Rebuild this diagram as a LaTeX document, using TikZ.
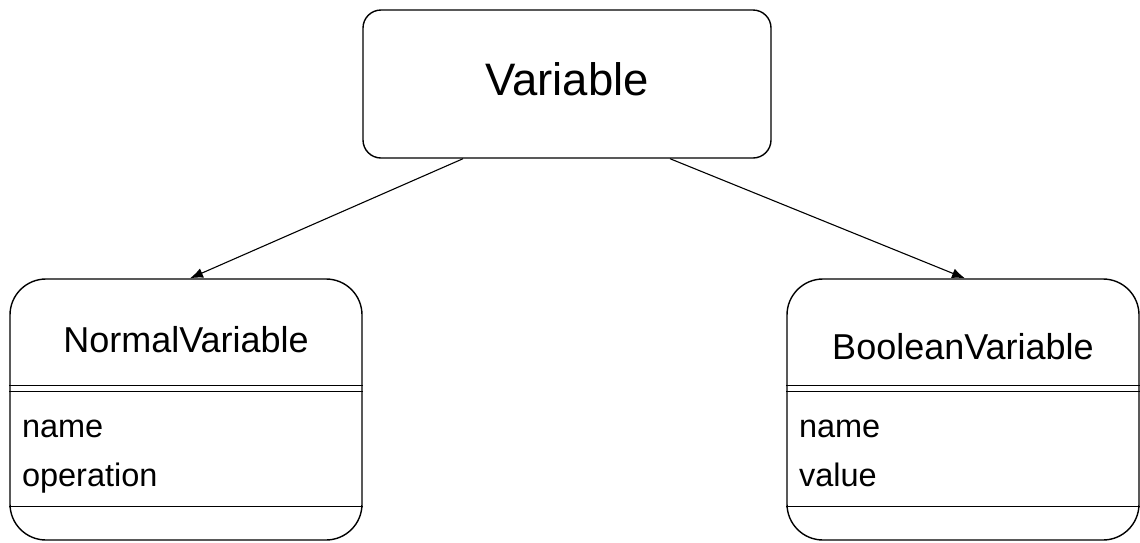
\documentclass[tikz,border=0pt]{standalone}
\usepackage{fontspec}
\setmainfont{Liberation Sans}
\usetikzlibrary{arrows.meta}

\tikzset{
    classbox/.style={draw, rounded corners=36pt, minimum width=352pt, minimum height=261pt},
    title/.style={font=\fontsize{36}{42}\selectfont},
    attr/.style={font=\fontsize{32.5}{38}\selectfont},
    inherit/.style={line width=1.1pt, -{Latex[length=13pt,width=10pt]}}
}

\begin{document}
\begin{tikzpicture}[x=1pt, y=-1pt, line width=1.4pt, every node/.style={inner sep=0pt}]

    \useasboundingbox (0,0) rectangle (1140,542);

    % Variable
    \node[draw, rounded corners=18pt, minimum width=408pt, minimum height=148pt] (variable) at (567,84) {};
    \node[font=\fontsize{45.5}{54}\selectfont] (variabletitle) at (567,79) {Variable};

    % NormalVariable
    \node[classbox] (normal) at (186,409.5) {};
    \node[title, anchor=base] (normaltitle) at ([yshift=-74pt]normal.north) {NormalVariable};
    \draw ([yshift=-107pt]normal.north west) -- ([yshift=-107pt]normal.north east);
    \draw ([yshift=-113pt]normal.north west) -- ([yshift=-113pt]normal.north east);
    \node[attr, anchor=base west] (normalname) at ([xshift=12pt, yshift=-159pt]normal.north west) {name};
    \node[attr, anchor=base west] (normalop) at ([xshift=12pt, yshift=-208pt]normal.north west) {operation};
    \draw ([yshift=-228pt]normal.north west) -- ([yshift=-228pt]normal.north east);

    % BooleanVariable
    \node[classbox] (boolean) at (963,409.5) {};
    \node[title, anchor=base] (booleantitle) at ([yshift=-81pt]boolean.north) {BooleanVariable};
    \draw ([yshift=-107pt]boolean.north west) -- ([yshift=-107pt]boolean.north east);
    \draw ([yshift=-113pt]boolean.north west) -- ([yshift=-113pt]boolean.north east);
    \node[attr, anchor=base west] (booleanname) at ([xshift=12pt, yshift=-159pt]boolean.north west) {name};
    \node[attr, anchor=base west] (booleanvalue) at ([xshift=12pt, yshift=-208pt]boolean.north west) {value};
    \draw ([yshift=-228pt]boolean.north west) -- ([yshift=-228pt]boolean.north east);

    % inheritance
    \draw[inherit] ([xshift=-104pt]variable.south) -- ([xshift=4pt]normal.north);
    \draw[inherit] ([xshift=103pt]variable.south) -- ([xshift=2pt]boolean.north);

\end{tikzpicture}
\end{document}
